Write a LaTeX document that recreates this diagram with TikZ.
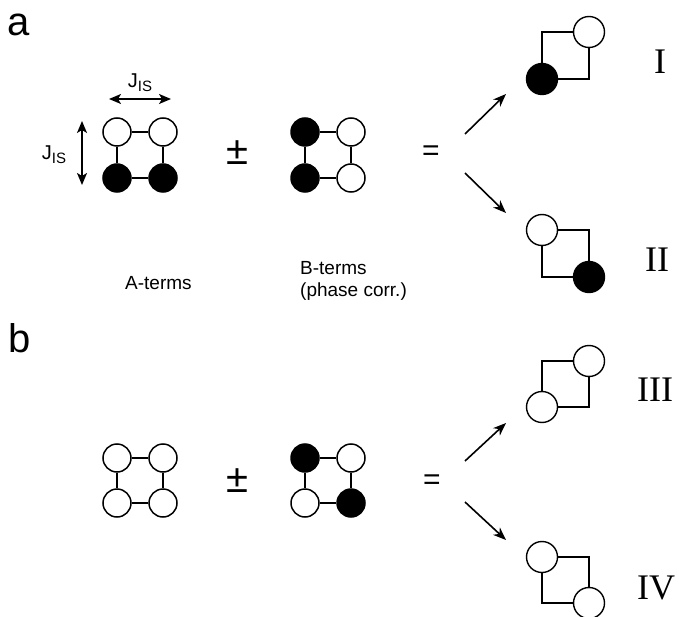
\documentclass[tikz,border=0pt]{standalone}
\usepackage{fontspec}
\setmainfont{Liberation Sans}
\newfontfamily\romfont{Liberation Serif}
\usetikzlibrary{arrows.meta}
\tikzset{
  oc/.style={circle,draw,fill=white,minimum size=28pt,inner sep=0pt,line width=1.5pt},
  fc/.style={oc,fill=black},
  ocb/.style={oc,minimum size=31pt,line width=1.4pt},
  fcb/.style={ocb,fill=black},
  sqline/.style={line width=1.5pt},
  resline/.style={line width=1.1pt},
  resarrow/.style={line width=1.6pt,-{Stealth[length=13pt,width=10pt,inset=4pt]}},
  jarrow/.style={line width=1.6pt,{Stealth[length=12pt,width=10pt,inset=3pt]}-{Stealth[length=12pt,width=10pt,inset=3pt]}},
  panel/.style={font=\fontsize{40}{44}\selectfont,inner sep=0pt},
  lbl/.style={font=\fontsize{19}{22}\selectfont,inner sep=0pt},
  jlbl/.style={font=\fontsize{20}{22}\selectfont,inner sep=0pt},
  rom/.style={font=\romfont\fontsize{36}{40}\selectfont,inner sep=0pt},
  opsign/.style={font=\fontsize{30}{30}\selectfont,inner sep=0pt},
  pmsign/.style={font=\fontsize{40}{40}\selectfont,inner sep=0pt},
}
\newcommand{\jis}{J\raisebox{-0.4ex}{\fontsize{15}{15}\selectfont IS}}
\begin{document}
\begin{tikzpicture}[x=1pt,y=-1pt]
\useasboundingbox (0,0) rectangle (679,617);
% panel labels
\node[panel] (pa) at (19,25) {a};
\node[panel] (pb) at (20,338) {b};

% ---------- panel a ----------
\node[oc] (a11) at (117,132) {};
\node[oc] (a12) at (163,132) {};
\node[fc] (a21) at (117,178) {};
\node[fc] (a22) at (163,178) {};
\draw[sqline] (a11) -- (a12) (a12) -- (a22) (a22) -- (a21) (a21) -- (a11);

\coordinate (jh1) at (109,99);
\coordinate (jh2) at (171,99);
\draw[jarrow] (jh1) -- (jh2);
\node[jlbl] (jhl) at (140,83) {\jis};
\coordinate (jv1) at (82,121);
\coordinate (jv2) at (82,185);
\draw[jarrow] (jv1) -- (jv2);
\node[jlbl] (jvl) at (54,155) {\jis};

\node[pmsign] (pma) at (237,153) {±};

\node[fc] (b11) at (305,132) {};
\node[oc] (b12) at (351,132) {};
\node[fc] (b21) at (305,178) {};
\node[oc] (b22) at (351,178) {};
\draw[sqline] (b11) -- (b12) (b12) -- (b22) (b22) -- (b21) (b21) -- (b11);

\node[opsign] (eqa) at (431,153) {=};

\coordinate (ea) at (465,134);
\coordinate (eb) at (465,173);
\coordinate (r1a) at (506,94);
\coordinate (r2a) at (506,213);
\draw[resarrow] (ea) -- (r1a);
\draw[resarrow] (eb) -- (r2a);

% result I
\node[ocb] (I1) at (589,32) {};
\node[fcb] (I2) at (542,79) {};
\coordinate (I3) at (542,32);
\coordinate (I4) at (589,79);
\draw[resline] (I2) -- (I3) -- (I1);
\draw[resline] (I2) -- (I4) -- (I1);
\node[rom] (lI) at (660,62) {I};

% result II
\node[ocb] (II1) at (542,230) {};
\node[fcb] (II2) at (589,277) {};
\coordinate (II3) at (589,230);
\coordinate (II4) at (542,277);
\draw[resline] (II1) -- (II3) -- (II2);
\draw[resline] (II1) -- (II4) -- (II2);
\node[rom] (lII) at (657,260) {II};

\node[lbl,anchor=west] (at) at (125,283) {A-terms};
\node[lbl,anchor=west,align=left] (bt) at (300,281) {B-terms\\(phase corr.)};

% ---------- panel b ----------
\node[oc] (c11) at (117,458) {};
\node[oc] (c12) at (163,458) {};
\node[oc] (c21) at (117,503) {};
\node[oc] (c22) at (163,503) {};
\draw[sqline] (c11) -- (c12) (c12) -- (c22) (c22) -- (c21) (c21) -- (c11);

\node[pmsign] (pmb) at (237,481) {±};

\node[fc] (d11) at (305,458) {};
\node[oc] (d12) at (351,458) {};
\node[oc] (d21) at (305,503) {};
\node[fc] (d22) at (351,503) {};
\draw[sqline] (d11) -- (d12) (d12) -- (d22) (d22) -- (d21) (d21) -- (d11);

\node[opsign] (eqb) at (432,482) {=};

\coordinate (eba) at (465,461);
\coordinate (ebb) at (465,502);
\coordinate (r3a) at (506,423);
\coordinate (r4a) at (506,540);
\draw[resarrow] (eba) -- (r3a);
\draw[resarrow] (ebb) -- (r4a);

% result III
\node[ocb] (III1) at (589,361) {};
\node[ocb] (III2) at (542,407) {};
\coordinate (III3) at (542,361);
\coordinate (III4) at (589,407);
\draw[resline] (III2) -- (III3) -- (III1);
\draw[resline] (III2) -- (III4) -- (III1);
\node[rom] (lIII) at (655,390) {III};

% result IV
\node[ocb] (IV1) at (542,557) {};
\node[ocb] (IV2) at (589,603) {};
\coordinate (IV3) at (589,557);
\coordinate (IV4) at (542,603);
\draw[resline] (IV1) -- (IV3) -- (IV2);
\draw[resline] (IV1) -- (IV4) -- (IV2);
\node[rom] (lIV) at (656,588) {IV};
\end{tikzpicture}
\end{document}
